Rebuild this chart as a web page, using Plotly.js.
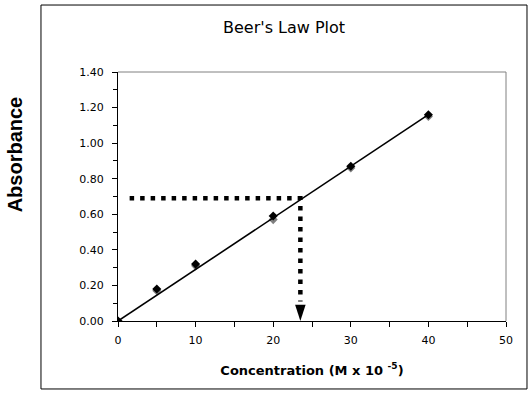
<!DOCTYPE html>
<html>
<head>
<meta charset="utf-8">
<script src="https://cdn.plot.ly/plotly-3.0.1.min.js"></script>
<style>html,body{margin:0;padding:0;background:#fff;}#chart{width:531px;height:396px;}</style>
</head>
<body>
<div id="chart"></div>
<script>
// Data
const concentration = [0, 5, 10, 20, 30, 40];
const absorbanceA = [0, 0.18, 0.32, 0.59, 0.87, 1.16];
const absorbanceB = [0, 0.17, 0.31, 0.57, 0.86, 1.15];
const fitX = [0, 40];
const fitY = [0, 1.16];
const guideX = [1.5, 23.5, 23.5];
const guideY = [0.69, 0.69, 0.11];
const arrowX = [23.5];
const arrowY = [0];
const xTicks = [0, 10, 20, 30, 40, 50];
const yTicks = [0, 0.2, 0.4, 0.6, 0.8, 1.0, 1.2, 1.4];

const tickFont = {family: 'DejaVu Sans, Verdana, sans-serif', size: 11, color: '#000'};

const traces = [
  {x: concentration, y: absorbanceB, mode: 'markers', type: 'scatter',
   marker: {symbol: 'diamond', size: 7, color: '#808080'}, hoverinfo: 'skip'},
  {x: fitX, y: fitY, mode: 'lines', type: 'scatter',
   line: {color: '#000', width: 1.6}},
  {x: concentration, y: absorbanceA, mode: 'markers', type: 'scatter',
   marker: {symbol: 'diamond', size: 7, color: '#000'}},
  {x: guideX, y: guideY, mode: 'lines', type: 'scatter',
   line: {color: '#000', width: 4.5, dash: '4.5px,6px'}},
  {x: arrowX, y: arrowY, mode: 'markers', type: 'scatter',
   marker: {symbol: 'arrow', angle: 180, size: 17, color: '#000'}}
];

const layout = {
  width: 531, height: 396,
  margin: {l: 118, r: 25, t: 72, b: 75},
  paper_bgcolor: '#fff', plot_bgcolor: '#fff',
  showlegend: false,
  font: tickFont,
  title: {text: "Beer's Law Plot", font: {family: 'DejaVu Sans, Verdana, sans-serif', size: 16, color: '#000'},
          x: 0.428, xref: 'paper', xanchor: 'center', y: 0.93, yanchor: 'middle'},
  xaxis: {
    range: [0, 50], tickvals: xTicks, ticktext: xTicks.map(String),
    showgrid: false, zeroline: false, showline: true, linecolor: '#000', linewidth: 1,
    ticks: 'outside', ticklen: 5, tickcolor: '#000', tickfont: tickFont, ticklabelstandoff: 4,
    minor: {dtick: 5, tick0: 0, ticks: 'outside', ticklen: 5, tickcolor: '#000', showgrid: false},
    title: {text: 'Concentration (M x 10 <sup>-5</sup>)', standoff: 19,
            font: {family: 'DejaVu Sans, Verdana, sans-serif', size: 13, color: '#000', weight: 'bold'}},
    fixedrange: true
  },
  yaxis: {
    range: [0, 1.4], tickvals: yTicks, ticktext: yTicks.map(v => v.toFixed(2)),
    showgrid: false, zeroline: false, showline: true, linecolor: '#000', linewidth: 1,
    ticks: 'outside', ticklen: 5, tickcolor: '#000', tickfont: tickFont, ticklabelstandoff: 6,
    minor: {dtick: 0.1, tick0: 0, ticks: 'outside', ticklen: 4, tickcolor: '#000', showgrid: false},
    fixedrange: true
  },
  shapes: [
    {type: 'line', xref: 'paper', yref: 'paper', x0: 0, x1: 1, y0: 1, y1: 1, line: {color: '#808080', width: 1}},
    {type: 'line', xref: 'paper', yref: 'paper', x0: 1, x1: 1, y0: 0, y1: 1, line: {color: '#808080', width: 1}},
    {type: 'rect', xref: 'paper', yref: 'paper', x0: -0.1985, x1: 1.0541, y0: -0.273, y1: 1.269,
     line: {color: '#000', width: 1}, fillcolor: 'rgba(0,0,0,0)'}
  ],
  annotations: [
    {text: 'Absorbance', xref: 'paper', yref: 'paper', x: -0.265, y: 0.67, textangle: -90,
     showarrow: false, xanchor: 'center', yanchor: 'middle',
     font: {family: 'Liberation Sans, Arial, sans-serif', size: 20, color: '#000', weight: 'bold'}}
  ]
};

Plotly.newPlot('chart', traces, layout, {displayModeBar: false, staticPlot: true});
</script>
</body>
</html>
